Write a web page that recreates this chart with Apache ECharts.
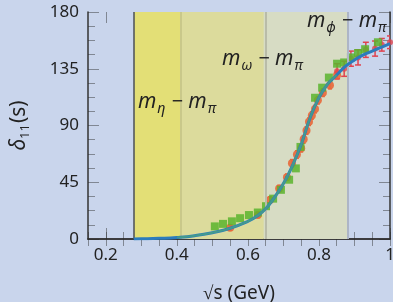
<!DOCTYPE html>
<html>
<head>
<meta charset="utf-8">
<script src="https://cdn.jsdelivr.net/npm/echarts@6/dist/echarts.min.js"></script>
<style>
  html, body { margin: 0; padding: 0; background: #c9d5ec; }
  #chart { width: 393px; height: 302px; }
</style>
</head>
<body>
<div id="chart"></div>
<script>
// theory curve
const curveX = [0.279, 0.3, 0.35, 0.4, 0.45, 0.5, 0.55, 0.6, 0.625, 0.65, 0.675, 0.7, 0.725, 0.75, 0.775, 0.8, 0.825, 0.85, 0.875, 0.9, 0.925, 0.95, 0.975, 1.0]
const curveY = [0, 0.1, 0.5, 1.2, 2.6, 5, 8.5, 14, 18, 24, 33, 44, 58, 75, 96, 112, 123, 130, 137, 142, 146, 149, 152, 155]

// green squares
const greenX = [0.507, 0.530, 0.555, 0.578, 0.603, 0.628, 0.651, 0.671, 0.693, 0.716, 0.735, 0.748, 0.789, 0.809, 0.828, 0.851, 0.871, 0.890, 0.910, 0.930, 0.966]
const greenY = [10, 12, 14, 16.5, 19, 21, 26, 32, 39, 47, 56, 73, 112, 120, 128, 139, 140, 144, 147.5, 150.5, 156]

// orange circles (small errors)
const orangeX = [0.55, 0.628, 0.662, 0.688, 0.71, 0.724, 0.738, 0.75, 0.757, 0.765, 0.772, 0.78, 0.789, 0.797, 0.811, 0.831, 0.851]
const orangeY = [9, 19, 31, 40, 49, 60, 67, 72, 79, 86, 93, 98, 103, 110, 116, 122, 130]
const orangeErr = [2, 2, 2.5, 2.5, 2.5, 3, 3, 3, 3, 3, 3, 3, 3, 3, 3, 3, 3]

// red points with large errors
const redX = [0.851, 0.871, 0.890, 0.910, 0.932, 0.958, 0.977, 1.0]
const redY = [133, 135, 143, 144, 150, 151, 154, 156]
const redErr = [6, 6, 6, 6, 6, 6, 5, 5]

// thresholds: 2m_pi, m_eta - m_pi, m_omega - m_pi, m_phi - m_pi
const edges = [0.279, 0.41, 0.645, 0.881]

const zip = (a, b, c) => a.map((v, i) => c ? [v, b[i], c[i]] : [v, b[i]])

const chart = echarts.init(document.getElementById('chart'))

const font = 'Noto Sans'
const tickColor = 'rgba(40,40,40,0.45)'
const lineColor = '#333'

const errorBars = (color, half, width) => function (params, api) {
    const x = api.value(0)
    const y = api.value(1)
    const e = api.value(2)
    const top = api.coord([x, y + e])
    const bot = api.coord([x, y - e])
    const st = { stroke: color, lineWidth: width }
    return {
        type: 'group',
        children: [
            { type: 'line', shape: { x1: top[0], y1: top[1], x2: bot[0], y2: bot[1] }, style: st },
            { type: 'line', shape: { x1: top[0] - half, y1: top[1], x2: top[0] + half, y2: top[1] }, style: st },
            { type: 'line', shape: { x1: bot[0] - half, y1: bot[1], x2: bot[0] + half, y2: bot[1] }, style: st },
        ],
    }
}

const grid = { left: 88, right: 3, top: 12, bottom: 63, outerBoundsMode: 'none', containLabel: false }
// second grid spans 0.2..1.0 on the same scale, for the major ticks and labels
const grid2 = { left: 88 + 0.05 * 302 / 0.85, right: 3, top: 12, bottom: 63, outerBoundsMode: 'none', containLabel: false }

const baseX = {
    type: 'value', min: 0.15, max: 1.0, interval: 0.05,
    axisLine: { show: true, lineStyle: { color: lineColor, width: 1.5 } },
    axisTick: { show: true, inside: true, length: 7, lineStyle: { color: tickColor, width: 1 } },
    axisLabel: { show: false },
    splitLine: { show: false },
}
const majorX = {
    type: 'value', gridIndex: 1, min: 0.2, max: 1.0, interval: 0.2,
    axisLine: { show: false },
    axisTick: { show: true, inside: true, length: 11, lineStyle: { color: tickColor, width: 1 } },
    splitLine: { show: false },
}
const baseY = {
    type: 'value', min: 0, max: 180, interval: 45,
    axisLine: { show: true, lineStyle: { color: lineColor, width: 1.5 } },
    axisTick: { show: true, inside: true, length: 11, lineStyle: { color: tickColor, width: 1 } },
    minorTick: { show: true, splitNumber: 4, length: 7, lineStyle: { color: tickColor, width: 1 } },
    splitLine: { show: false },
}

function mLabel(sub, x, y) {
    return {
        type: 'text',
        left: x,
        top: y - 14,
        silent: true,
        z: 10,
        style: {
            text: '{m|m}{s|' + sub + '}{o| − }{m|m}{s|π}',
            fill: '#222',
            font: '20px ' + font,
            rich: {
                m: { fontSize: 21, fontStyle: 'italic', fontFamily: font, fill: '#222', lineHeight: 24 },
                o: { fontSize: 20, fontFamily: font, fill: '#222', lineHeight: 24 },
                s: { fontSize: 14, fontStyle: 'italic', fontFamily: font, fill: '#222', padding: [14, 1, 0, 1], verticalAlign: 'bottom' },
            },
        },
    }
}

const option = {
    backgroundColor: '#c9d5ec',
    animation: false,
    textStyle: { fontFamily: font },
    grid: [grid, grid2],
    xAxis: [
        Object.assign({}, baseX, {
            position: 'bottom',
            name: '√s (GeV)',
            nameLocation: 'middle',
            nameGap: 45,
            nameTextStyle: { color: '#222', fontSize: 19, fontFamily: font },
        }),
        Object.assign({}, baseX, { position: 'top' }),
        Object.assign({}, majorX, {
            position: 'bottom',
            axisLabel: {
                show: true, color: '#222', fontSize: 17, margin: 8, fontFamily: font,
                formatter: (v) => (v === 1 ? '1' : v.toFixed(1)),
            },
        }),
        Object.assign({}, majorX, { position: 'top', axisLabel: { show: false } }),
    ],
    yAxis: [
        Object.assign({}, baseY, {
            position: 'left',
            axisLabel: { show: true, color: '#222', fontSize: 17, margin: 9, fontFamily: font },
            name: '{d|δ}{s|11}{p|(s)}',
            nameLocation: 'middle',
            nameRotate: 90,
            nameGap: 56,
            nameTextStyle: {
                color: '#222', fontFamily: font,
                rich: {
                    d: { fontSize: 21, fontStyle: 'italic', color: '#222' },
                    s: { fontSize: 13, color: '#222', padding: [12, 1, 0, 0], verticalAlign: 'bottom' },
                    p: { fontSize: 21, color: '#222' },
                },
            },
        }),
        Object.assign({}, baseY, { position: 'right', axisLabel: { show: false } }),
        { type: 'value', gridIndex: 1, min: 0, max: 180, show: false },
    ],
    series: [
        {
            type: 'line',
            data: [],
            markArea: {
                silent: true,
                data: [
                    [{ xAxis: edges[0], itemStyle: { color: '#e3df76' } }, { xAxis: edges[1] }],
                    [{ xAxis: edges[1], itemStyle: { color: '#dcdb9c' } }, { xAxis: edges[2] }],
                    [{ xAxis: edges[2], itemStyle: { color: '#d7dcc4' } }, { xAxis: edges[3] }],
                ],
            },
            markLine: {
                silent: true,
                symbol: 'none',
                label: { show: false },
                data: [
                    { xAxis: edges[0], lineStyle: { color: '#4a4f5a', width: 1.5, type: 'solid' } },
                    { xAxis: edges[1], lineStyle: { color: '#c9c88a', width: 2, type: 'solid' } },
                    { xAxis: edges[2], lineStyle: { color: '#b9bca8', width: 2, type: 'solid' } },
                    { xAxis: edges[3], lineStyle: { color: '#adb5c6', width: 2, type: 'solid' } },
                ],
            },
        },
        {
            type: 'custom',
            renderItem: errorBars('#e4683c', 2, 1.5),
            data: zip(orangeX, orangeY, orangeErr),
            clip: true,
            z: 3,
        },
        {
            type: 'scatter',
            symbol: 'circle',
            symbolSize: 8,
            itemStyle: { color: '#e8683a', opacity: 0.9 },
            data: zip(orangeX, orangeY),
            z: 3,
        },
        {
            type: 'custom',
            renderItem: errorBars('#e0434f', 3, 1.5),
            data: zip(redX, redY, redErr),
            clip: true,
            z: 3,
        },
        {
            type: 'scatter',
            symbol: 'circle',
            symbolSize: 6,
            itemStyle: { color: '#e0434f' },
            data: zip(redX, redY),
            z: 3,
        },
        {
            type: 'scatter',
            symbol: 'rect',
            symbolSize: 8,
            itemStyle: { color: '#5ab42e', opacity: 0.85 },
            data: zip(greenX, greenY),
            z: 4,
        },
        {
            type: 'line',
            smooth: true,
            symbol: 'none',
            lineStyle: { color: '#2b7cbd', width: 3 },
            data: zip(curveX, curveY),
            z: 5,
        },
        {
            type: 'line',
            smooth: true,
            symbol: 'none',
            lineStyle: { color: '#5cb860', width: 2, opacity: 0.5 },
            data: zip(curveX, curveY).filter((p) => p[0] >= 0.4 && p[0] <= 0.85),
            z: 6,
        },
    ],
    graphic: [
        mLabel('η', 138, 106),
        mLabel('ω', 222, 63),
        mLabel('ϕ', 307, 25),
    ],
}

chart.setOption(option)
</script>
</body>
</html>
